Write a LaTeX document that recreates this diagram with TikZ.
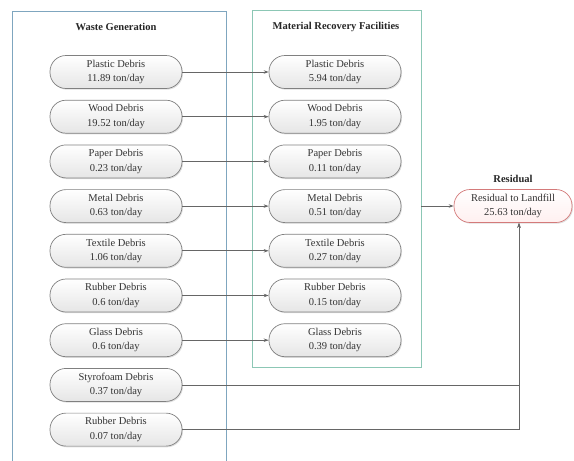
\documentclass[tikz,border=0pt]{standalone}
\usepackage{fontspec}
\setmainfont{Liberation Serif}
\usetikzlibrary{shadows,arrows.meta}

\definecolor{wgline}{HTML}{7FA6BF}
\definecolor{mrfline}{HTML}{8CC7B5}
\definecolor{resline}{HTML}{D47A7A}
\definecolor{txtgray}{HTML}{333333}

\tikzset{
  debris/.style={draw=black!50, line width=0.7pt, rounded corners=16pt,
    minimum width=132pt, minimum height=33pt, inner sep=0pt,
    top color=white, bottom color=black!10, align=center,
    drop shadow={shadow xshift=1pt, shadow yshift=-1.2pt, opacity=0.25},
    font=\fontsize{10.5}{14.5}\selectfont, text=txtgray},
  title/.style={font=\fontsize{10.5}{12}\selectfont\bfseries, text=black!85},
  flow/.style={draw=black!60, line width=0.7pt, -{Stealth[length=5pt,width=3.5pt]}},
}

\begin{document}
\begin{tikzpicture}[x=1pt, y=-1pt]
  \useasboundingbox (0,0) rectangle (574,461);
  \clip (0,0) rectangle (574,461);
  % containers
  \draw[wgline, line width=0.9pt] (12,11) rectangle (226,470);
  \draw[mrfline, line width=0.9pt] (252,10) rectangle (421,367);
  \coordinate (mrfedge) at (421,206);
  \node[title] (wgtitle) at (116,27) {Waste Generation};
  \node[title] (mrftitle) at (336,27) {Material Recovery Facilities};
  % waste generation
  \foreach \i/\kind/\amt in {1/Plastic/11.89, 2/Wood/19.52, 3/Paper/0.23, 4/Metal/0.63, 5/Textile/1.06, 6/Rubber/0.6, 7/Glass/0.6, 8/Styrofoam/0.37, 9/Rubber/0.07}
    \node[debris] (w\i) at (116,27.3+44.7*\i) {\kind{} Debris\\\amt{} ton/day};
  % recovery
  \foreach \i/\kind/\amt in {1/Plastic/5.94, 2/Wood/1.95, 3/Paper/0.11, 4/Metal/0.51, 5/Textile/0.27, 6/Rubber/0.15, 7/Glass/0.39} {
    \node[debris] (m\i) at (335,27.3+44.7*\i) {\kind{} Debris\\\amt{} ton/day};
    \draw[flow] (w\i) -- (m\i);
  }
  % residual
  \node[debris, draw=resline, bottom color=red!6, minimum width=118pt] (res) at (513,206) {Residual to Landfill\\25.63 ton/day};
  \node[title, above=3pt] (restitle) at (res.north) {Residual};
  \draw[flow] (mrfedge) -- (res);
  \draw[flow] (w8.east) -| ([xshift=6pt]res.south);
  \draw[flow] (w9.east) -| ([xshift=6pt]res.south);
\end{tikzpicture}
\end{document}
